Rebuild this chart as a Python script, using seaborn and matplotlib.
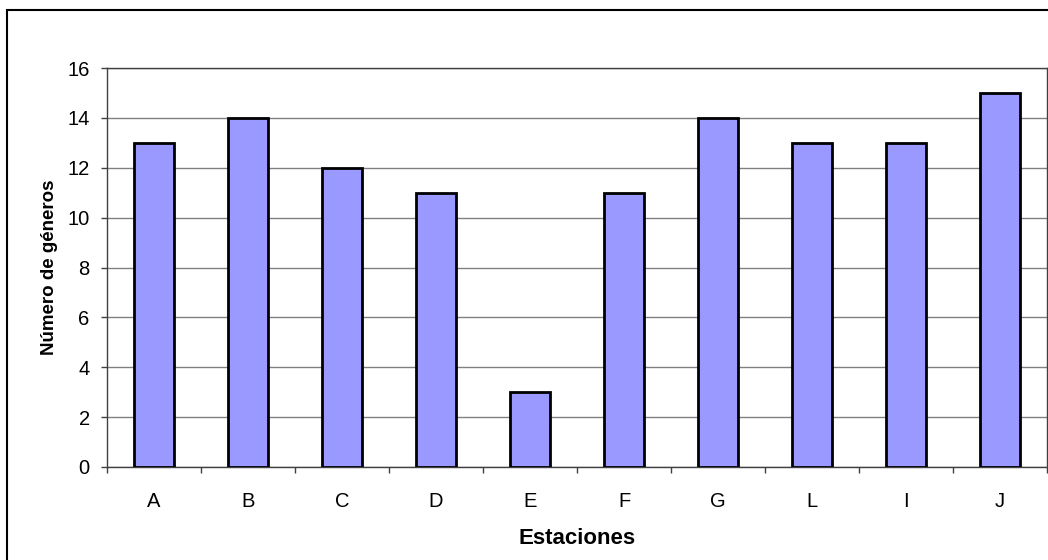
import matplotlib
matplotlib.use("Agg")
import matplotlib.pyplot as plt
import matplotlib.patches as mpatches
from matplotlib.ticker import FixedLocator, MultipleLocator
import seaborn as sns
import pandas as pd

# Station names and number of genera recorded at each
estaciones = ["A", "B", "C", "D", "E", "F", "G", "L", "I", "J"]
generos = [13, 14, 12, 11, 3, 11, 14, 13, 13, 15]

sns.set_style("white")
plt.rcParams["font.family"] = ["Liberation Sans", "DejaVu Sans"]
plt.rcParams["text.color"] = "black"
plt.rcParams["axes.labelcolor"] = "black"

df = pd.DataFrame({"Estaciones": estaciones, "Generos": generos})

W, H = 1048, 560
fig = plt.figure(figsize=(W / 100, H / 100), dpi=100)
ax = fig.add_axes([107 / W, (H - 467) / H, (1047 - 107) / W, (467 - 68) / H])

sns.barplot(data=df, x="Estaciones", y="Generos", order=estaciones,
            color="#9999FF", saturation=1, edgecolor="black", linewidth=2,
            width=0.42, ax=ax, zorder=3)

ax.set_xlim(-0.5, len(estaciones) - 0.5)
ax.set_ylim(0, 16)
ax.yaxis.set_major_locator(MultipleLocator(2))
ax.grid(axis="y", color="#808080", linewidth=1, zorder=0)
ax.set_axisbelow(True)

# category labels without marks; marks drawn between categories
ax.tick_params(axis="x", which="major", length=0, pad=18, labelsize=14.5, colors="black")
ax.xaxis.set_minor_locator(FixedLocator([i + 0.5 for i in range(-1, len(estaciones))]))
ax.tick_params(axis="x", which="minor", bottom=True, length=4.5, width=1, color="#404040")
ax.tick_params(axis="y", which="major", left=True, length=4.5, width=1, color="#404040",
               pad=8, labelsize=14.5, labelcolor="black")

for side in ["left", "bottom", "top", "right"]:
    ax.spines[side].set_visible(True)
    ax.spines[side].set_color("#404040")
    ax.spines[side].set_linewidth(1)

ax.set_xlabel("Estaciones", fontsize=16, fontweight="bold", labelpad=12, color="black")
ax.set_ylabel("Número de géneros", fontsize=13.5, fontweight="bold", labelpad=7, color="black")

# chart frame
fig.patches.append(mpatches.Rectangle((7 / W, -0.1), 1.2, (H - 10) / H + 0.1,
                                      transform=fig.transFigure, fill=False,
                                      edgecolor="black", linewidth=1.5))

fig.savefig("out.png", dpi=100)
